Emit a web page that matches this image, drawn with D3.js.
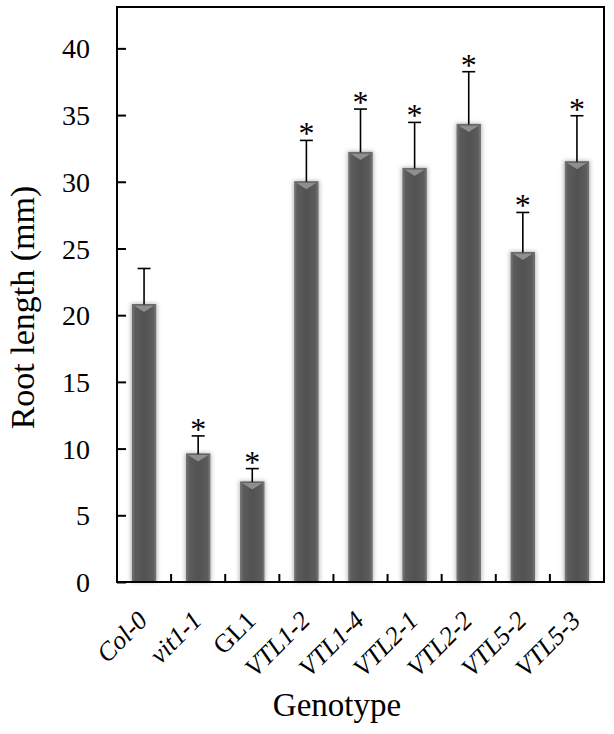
<!DOCTYPE html>
<html>
<head>
<meta charset="utf-8">
<script src="https://cdn.jsdelivr.net/npm/d3@7"></script>
<style>
  html, body { margin: 0; padding: 0; background: #fff; }
  svg { display: block; }
</style>
</head>
<body>
<svg id="chart" width="614" height="734"></svg>
<script>
// ---- data ----
const categories = ["Col-0", "vit1-1", "GL1", "VTL1-2", "VTL1-4", "VTL2-1", "VTL2-2", "VTL5-2", "VTL5-3"];
const italicLabels = [true, true, false, true, true, true, true, true, true];
const meanValues = [20.8, 9.6, 7.5, 30.0, 32.2, 31.0, 34.3, 24.7, 31.5];
const errorValues = [2.7, 1.35, 1.0, 3.1, 3.25, 3.45, 3.95, 3.0, 3.45];
const significant = [false, true, true, true, true, true, true, true, true];
const yTicks = [0, 5, 10, 15, 20, 25, 30, 35, 40];
const yTitle = "Root length (mm)";
const xTitle = "Genotype";

(function () {
// ---- layout ----
const svg = d3.select("#chart");
const pLeft = 117, pRight = 604, pTop = 7, pBottom = 582;
const fontFam = "'Liberation Serif', 'Times New Roman', serif";

const x = d3.scaleBand().domain(categories).range([pLeft, pRight]).paddingInner(0.57).paddingOuter(0.285);
const y = d3.scaleLinear().domain([0, 43.1]).range([pBottom, pTop]);

const defs = svg.append("defs");
const grad = defs.append("linearGradient").attr("id", "barGrad").attr("x1", "0%").attr("x2", "100%").attr("y1", "0%").attr("y2", "0%");
[["0%", "#7a7a7a"], ["10%", "#5c5c5c"], ["50%", "#525252"], ["90%", "#5c5c5c"], ["100%", "#7a7a7a"]]
  .forEach(([o, c]) => grad.append("stop").attr("offset", o).attr("stop-color", c));
const blur = defs.append("filter").attr("id", "glow").attr("x", "-50%").attr("y", "-10%").attr("width", "200%").attr("height", "120%");
blur.append("feGaussianBlur").attr("stdDeviation", 2.2);

const data = categories.map((c, i) => ({ c, v: meanValues[i], e: errorValues[i], sig: significant[i], it: italicLabels[i] }));

// bar glow
svg.append("g").selectAll("rect").data(data).join("rect")
  .attr("x", d => x(d.c) - 1.5)
  .attr("y", d => y(d.v) - 1)
  .attr("width", x.bandwidth() + 3)
  .attr("height", d => y(0) - y(d.v) + 1)
  .attr("fill", "#b8b8b8")
  .attr("filter", "url(#glow)");

// bars
svg.append("g").selectAll("rect").data(data).join("rect")
  .attr("x", d => x(d.c))
  .attr("y", d => y(d.v))
  .attr("width", x.bandwidth())
  .attr("height", d => y(0) - y(d.v))
  .attr("fill", "url(#barGrad)")
  .attr("stroke", "#6a6a6a")
  .attr("stroke-width", 1);

// top bevel triangles
svg.append("g").selectAll("path").data(data).join("path")
  .attr("d", d => {
    const x0 = x(d.c), w = x.bandwidth(), yt = y(d.v);
    return `M${x0 + 1.5},${yt + 1} L${x0 + w - 1.5},${yt + 1} L${x0 + w / 2},${yt + 7.5} Z`;
  })
  .attr("fill", "#8e8e8e");

// error bars
const eg = svg.append("g").attr("stroke", "#000").attr("stroke-width", 1.6);
eg.selectAll("line.v").data(data).join("line").attr("class", "v")
  .attr("x1", d => x(d.c) + x.bandwidth() / 2).attr("x2", d => x(d.c) + x.bandwidth() / 2)
  .attr("y1", d => y(d.v)).attr("y2", d => y(d.v + d.e));
eg.selectAll("line.c").data(data).join("line").attr("class", "c")
  .attr("x1", d => x(d.c) + x.bandwidth() / 2 - 6.5).attr("x2", d => x(d.c) + x.bandwidth() / 2 + 6.5)
  .attr("y1", d => y(d.v + d.e)).attr("y2", d => y(d.v + d.e));

// asterisks
svg.append("g").selectAll("text").data(data.filter(d => d.sig)).join("text")
  .attr("x", d => x(d.c) + x.bandwidth() / 2)
  .attr("y", d => y(d.v + d.e) + 4)
  .attr("text-anchor", "middle")
  .attr("font-family", fontFam)
  .attr("font-size", 32)
  .text("*");

// frame
svg.append("rect").attr("x", pLeft).attr("y", pTop).attr("width", pRight - pLeft).attr("height", pBottom - pTop)
  .attr("fill", "none").attr("stroke", "#000").attr("stroke-width", 2);

// y axis
const yAxis = d3.axisLeft(y).tickValues(yTicks).tickSizeInner(-9).tickSizeOuter(0).tickPadding(27);
const ya = svg.append("g").attr("transform", `translate(${pLeft},0)`).call(yAxis);
ya.select(".domain").remove();
ya.selectAll(".tick line").attr("stroke", "#000").attr("stroke-width", 2);
ya.selectAll(".tick text").attr("font-family", fontFam).attr("font-size", 28).attr("fill", "#000").attr("dy", "0.34em");

// x axis ticks (between bars, inward)
const step = x.step();
const xBoundaries = categories.slice(1).map(c => x(c) - (step - x.bandwidth()) / 2);
svg.append("g").selectAll("line").data(xBoundaries).join("line")
  .attr("x1", d => d).attr("x2", d => d).attr("y1", pBottom).attr("y2", pBottom - 8)
  .attr("stroke", "#000").attr("stroke-width", 2);

// x labels
svg.append("g").selectAll("text").data(data).join("text")
  .attr("transform", d => `translate(${x(d.c) + x.bandwidth() / 2 + 5},${pBottom + 40}) rotate(-45)`)
  .attr("text-anchor", "end")
  .attr("font-family", fontFam)
  .attr("font-size", 26)
  .attr("font-style", d => d.it ? "italic" : "normal")
  .text(d => d.c);

// titles
svg.append("text")
  .attr("transform", `translate(34,${(177 + 438) / 2}) rotate(-90)`)
  .attr("text-anchor", "middle")
  .attr("font-family", fontFam)
  .attr("font-size", 34)
  .text(yTitle);

svg.append("text")
  .attr("x", 337).attr("y", 716)
  .attr("text-anchor", "middle")
  .attr("font-family", fontFam)
  .attr("font-size", 33)
  .text(xTitle);
})();
</script>
</body>
</html>
